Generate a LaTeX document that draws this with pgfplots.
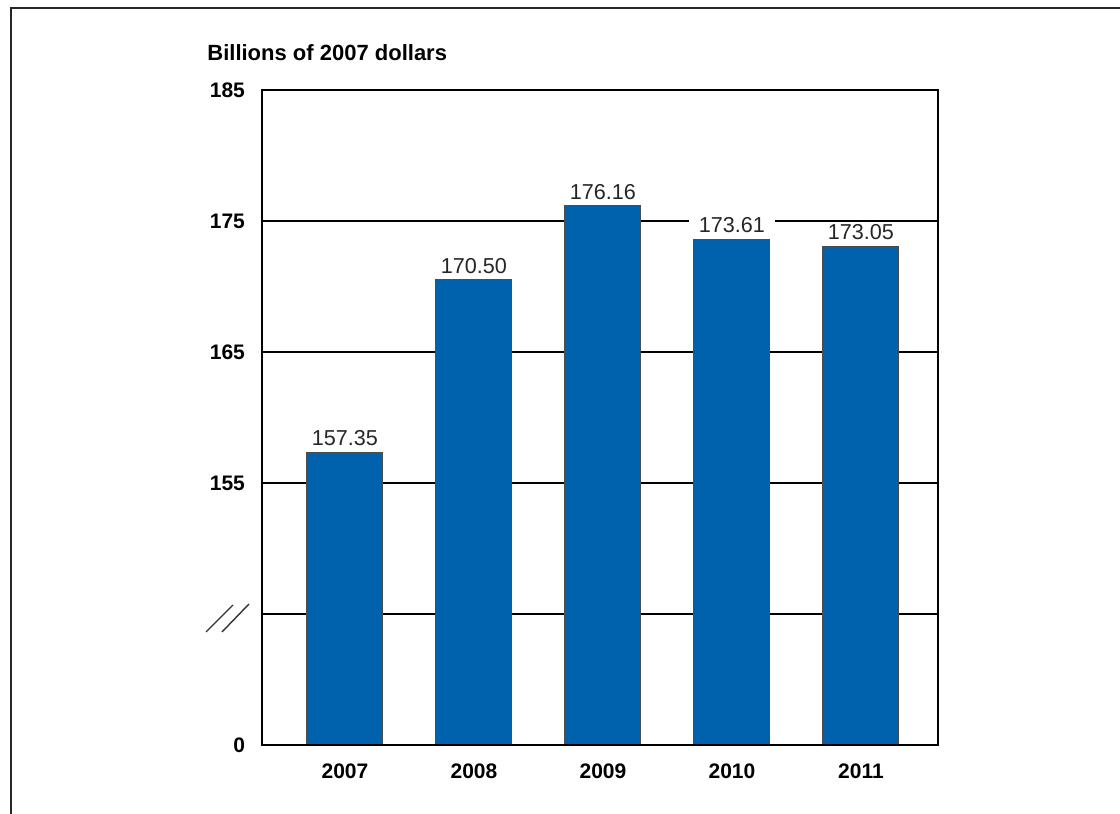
\documentclass[border=0pt]{standalone}
\usepackage{pgfplots}
\pgfplotsset{compat=1.18}
\usepackage{fontspec}
\setmainfont{Liberation Sans}
\definecolor{barblue}{RGB}{0,98,172}
\begin{document}
\begin{tikzpicture}[x=0.5pt,y=0.5pt]
\useasboundingbox (0,0) rectangle (1120,814);
\draw[line width=0.8pt, black!85] (11,0) -- (11,806) -- (1120,806);
\node[anchor=base west, inner sep=0pt, font=\bfseries\fontsize{11}{13}\selectfont] at (207,753) {Billions of 2007 dollars};
\begin{axis}[at={(131pt,34.5pt)}, anchor=south west, scale only axis,
  width=338pt, height=327.5pt,
  xmin=-0.643, xmax=4.597, ymin=135, ymax=185,
  ybar, bar width=0.589,
  xtick={0,...,4}, xticklabels={2007,2008,2009,2010,2011},
  ytick={135,145,155,165,175,185}, yticklabels={0,,155,165,175,185},
  major tick length=0pt,
  axis line style={line width=1.3pt},
  ymajorgrids, grid style={black, line width=1pt},
  tick label style={font=\bfseries\fontsize{10.5}{12}\selectfont},
  xticklabel style={yshift=-6pt}, yticklabel style={xshift=-5pt},
  nodes near coords, point meta=explicit symbolic,
  nodes near coords style={fill=white, inner xsep=5pt, inner ysep=1pt, yshift=2pt,
    font=\fontsize{10.8}{12}\selectfont, text=black!85},
  ]
\addplot[fill=barblue, draw=black!70, line width=0.5pt] table[meta=label] {
x y label
0 157.35 157.35
1 170.50 170.50
2 176.16 176.16
3 173.61 173.61
4 173.05 173.05
};
\draw[line width=1.3pt] (rel axis cs:0,0) rectangle (rel axis cs:1,1);
\end{axis}
\draw[line width=0.7pt, black!80] (206,182) -- (233,209);
\draw[line width=0.7pt, black!80] (222,182) -- (249,210);
\end{tikzpicture}
\end{document}
